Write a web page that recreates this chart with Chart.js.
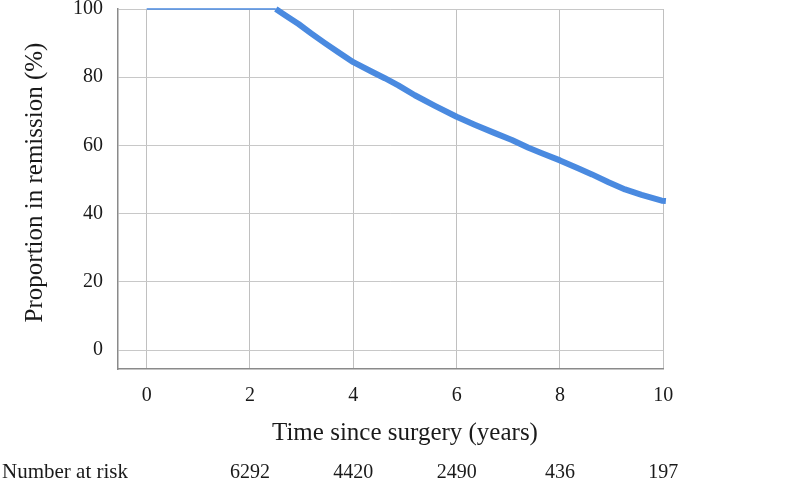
<!DOCTYPE html>
<html>
<head>
<meta charset="utf-8">
<script src="https://cdn.jsdelivr.net/npm/chart.js@4/dist/chart.umd.min.js"></script>
<style>
  html, body { margin: 0; padding: 0; background: #fff; }
  #wrap { width: 800px; height: 481px; position: relative; }
</style>
</head>
<body>
<div id="wrap"><canvas id="c" width="800" height="481"></canvas></div>
<script>
// ---- data ----
const flatTimes = [0, 2.5];
const flatValues = [100, 100];
const curveTimes  = [2.5, 2.68, 2.94, 3.19, 3.45, 3.71, 4.0, 4.36, 4.61, 4.87, 5.19, 5.58, 6.0, 6.36, 6.74, 7.07, 7.39, 7.65, 8.0, 8.36, 8.62, 8.94, 9.26, 9.58, 9.97, 10.05];
const curveValues = [100, 98.2, 95.6, 92.8, 90.0, 87.3, 84.4, 81.6, 79.7, 77.6, 74.7, 71.6, 68.4, 66.0, 63.6, 61.6, 59.3, 57.7, 55.6, 53.2, 51.5, 49.2, 47.1, 45.5, 43.8, 43.7];
const xTicks = [0, 2, 4, 6, 8, 10];
const yTicks = [0, 20, 40, 60, 80, 100];
const riskTimes = [2, 4, 6, 8, 10];
const atRisk = [6292, 4420, 2490, 436, 197];
const xTitle = 'Time since surgery (years)';
const yTitle = 'Proportion in remission (%)';
const riskLabel = 'Number at risk';

const FONT = "'Liberation Serif', 'Times New Roman', serif";
const TEXT = '#1a1a1a';
const BLUE = '#4a8ae0';

const toXY = (xs, ys) => xs.map((x, i) => ({ x: x, y: ys[i] }));

const textPlugin = {
  id: 'textRows',
  afterDraw(chart) {
    const ctx = chart.ctx;
    const xs = chart.scales.x;
    const x0 = xs.getPixelForValue(xTicks[0]);
    const x1 = xs.getPixelForValue(xTicks[xTicks.length - 1]);
    ctx.save();
    ctx.fillStyle = TEXT;
    ctx.textBaseline = 'alphabetic';
    // x axis title, centred on the 0..10 span
    ctx.font = "25px " + FONT;
    ctx.textAlign = 'center';
    ctx.fillText(xTitle, (x0 + x1) / 2, 440);
    // y axis title
    ctx.save();
    ctx.translate(41.5, 182.5);
    ctx.rotate(-Math.PI / 2);
    ctx.fillText(yTitle, 0, 0);
    ctx.restore();
    // number at risk row
    ctx.font = "21px " + FONT;
    ctx.textAlign = 'left';
    ctx.fillText(riskLabel, 2, 478);
    ctx.font = "20px " + FONT;
    ctx.textAlign = 'center';
    riskTimes.forEach((t, i) => {
      ctx.fillText(String(atRisk[i]), xs.getPixelForValue(t), 478);
    });
    ctx.restore();
  }
};

new Chart(document.getElementById('c'), {
  type: 'scatter',
  data: {
    datasets: [
      {
        data: toXY(flatTimes, flatValues),
        showLine: true,
        borderColor: BLUE,
        borderWidth: 1.5,
        pointRadius: 0,
        clip: 10
      },
      {
        data: toXY(curveTimes, curveValues),
        showLine: true,
        borderColor: BLUE,
        borderWidth: 6,
        borderJoinStyle: 'round',
        borderCapStyle: 'butt',
        pointRadius: 0,
        clip: 10
      }
    ]
  },
  options: {
    responsive: false,
    animation: false,
    devicePixelRatio: 1,
    layout: { padding: { top: 9, right: 136.7, bottom: 0, left: 0 } },
    plugins: { legend: { display: false }, tooltip: { enabled: false } },
    scales: {
      x: {
        type: 'linear',
        min: -0.555,
        max: 10,
        afterBuildTicks: s => { s.ticks = xTicks.map(v => ({ value: v })); },
        afterFit: s => { s.height = 112; s.paddingLeft = 0; s.paddingRight = 0; },
        grid: { color: '#c0c0c0', lineWidth: 1, drawTicks: false },
        border: { display: true, color: '#8a8a8a', width: 1.5 },
        ticks: { font: { family: FONT, size: 20 }, color: TEXT, padding: 15, maxRotation: 0 },
        title: { display: false }
      },
      y: {
        type: 'linear',
        min: -5.57,
        max: 100,
        afterBuildTicks: s => { s.ticks = yTicks.map(v => ({ value: v })); },
        afterFit: s => { s.width = 118; s.paddingTop = 0; s.paddingBottom = 0; },
        grid: { color: '#c8c8c8', lineWidth: 1, drawTicks: false },
        border: { display: true, color: '#8a8a8a', width: 1.5 },
        ticks: { font: { family: FONT, size: 20 }, color: TEXT, padding: 15 },
        title: { display: false }
      }
    }
  },
  plugins: [textPlugin]
});
</script>
</body>
</html>
